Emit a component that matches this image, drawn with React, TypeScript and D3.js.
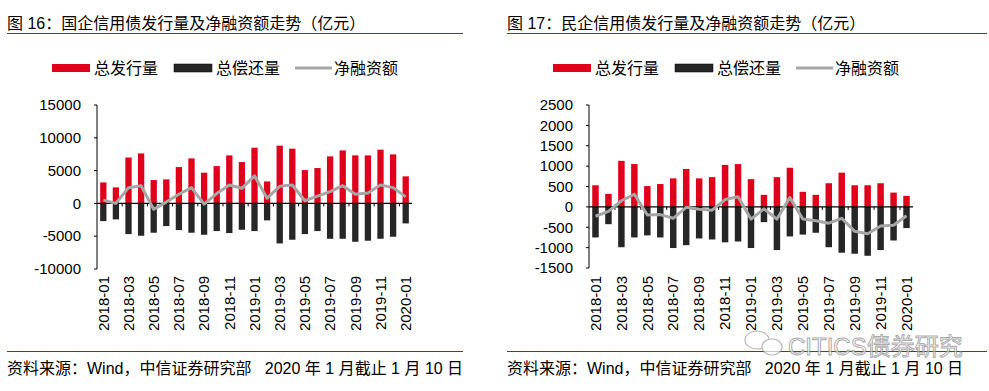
import * as d3 from 'd3'

const months = [
  '2018-01', '2018-02', '2018-03', '2018-04', '2018-05', '2018-06', '2018-07', '2018-08', '2018-09',
  '2018-10', '2018-11', '2018-12', '2019-01', '2019-02', '2019-03', '2019-04', '2019-05', '2019-06',
  '2019-07', '2019-08', '2019-09', '2019-10', '2019-11', '2019-12', '2020-01',
]

// 国企 (state-owned)
const soeIssue = [3200, 2440, 7000, 7620, 3560, 3660, 5540, 6860, 4680, 5690, 7320, 6300, 8490, 3350, 8800, 8340, 5080, 5390, 7170, 8080, 7320, 7320, 8190, 7470, 4120]
const soeRepay = [-2700, -2440, -4680, -4930, -4470, -3460, -4070, -4470, -4780, -4220, -4520, -4020, -4220, -2590, -6100, -5540, -4680, -4220, -5390, -5390, -5850, -5690, -5390, -5080, -3050]
const soeNet = [500, 0, 2400, 2700, -900, 200, 1400, 2400, -100, 1500, 2800, 2300, 4200, 800, 2600, 2800, 400, 1100, 1800, 2700, 1400, 1600, 2800, 2400, 1000]
const soeTicks = [15000, 10000, 5000, 0, -5000, -10000]

// 民企 (private)
const privIssue = [530, 320, 1130, 1050, 510, 560, 700, 930, 700, 730, 1030, 1050, 680, 295, 730, 960, 370, 295, 580, 840, 530, 530, 580, 350, 270]
const privRepay = [-750, -425, -990, -750, -700, -750, -1010, -940, -775, -800, -870, -850, -1010, -375, -1060, -725, -680, -635, -990, -1125, -1150, -1200, -1060, -825, -520]
const privNet = [-230, -110, 150, 310, -200, -190, -280, -10, -60, -80, 180, 250, -300, -50, -300, 230, -300, -340, -400, -280, -600, -660, -470, -450, -220]
const privTicks = [2500, 2000, 1500, 1000, 500, 0, -500, -1000, -1500]

const RED = '#E0001B'
const BLACK = '#262626'
const GRAY = '#A6A6A6'
const LINE_RED = '#9E1F24'
const FONT = '"Liberation Sans", Arial, "Noto Sans CJK SC", sans-serif'

interface PanelProps {
  ox: number
  width: number
  title: string
  issue: number[]
  repay: number[]
  net: number[]
  ticks: number[]
  plotX: [number, number]
  yTop: number
  yBottom: number
  legendX: number
}

function Panel({ ox, width, title, issue, repay, net, ticks, plotX, yTop, yBottom, legendX }: PanelProps) {
  const x = d3.scaleBand<string>().domain(months).range(plotX).paddingInner(0.5).paddingOuter(0.25)
  const band = d3.scaleBand<string>().domain(months).range(plotX)
  const y = d3.scaleLinear().domain([ticks[ticks.length - 1], ticks[0]]).range([yBottom, yTop])
  const y0 = y(0)
  const line = d3.line<number>()
    .x((_, i) => (band(months[i]) ?? 0) + band.bandwidth() / 2)
    .y((d) => y(d))

  return (
    <g>
      <text x={ox} y={29} fontSize={16} fill="#000">{title}</text>
      <line x1={ox} x2={ox + width} y1={33.5} y2={33.5} stroke={LINE_RED} strokeWidth={1} />

      {/* legend */}
      <g transform={`translate(${legendX},68)`} fontSize={16}>
        <rect x={0} y={-4} width={38} height={8} fill={RED} />
        <text x={42} y={6}>总发行量</text>
        <rect x={122} y={-4} width={38} height={8} fill={BLACK} stroke="#000" strokeWidth={0.5} />
        <text x={164} y={6}>总偿还量</text>
        <line x1={243} x2={280} y1={0} y2={0} stroke={GRAY} strokeWidth={3} />
        <text x={282} y={6}>净融资额</text>
      </g>

      {/* bars */}
      {months.map((m, i) => (
        <g key={m}>
          <rect x={x(m)} width={x.bandwidth()} y={y(issue[i])} height={y0 - y(issue[i])} fill={RED} />
          <rect x={x(m)} width={x.bandwidth()} y={y0} height={y(repay[i]) - y0} fill={BLACK} />
        </g>
      ))}

      {/* y axis */}
      <line x1={plotX[0]} x2={plotX[0]} y1={yTop} y2={yBottom} stroke="#000" strokeWidth={1} />
      {ticks.map((t) => (
        <g key={t}>
          <line x1={plotX[0] - 3} x2={plotX[0]} y1={y(t)} y2={y(t)} stroke="#000" />
          <text x={plotX[0] - 16} y={y(t)} dy="0.35em" textAnchor="end" fontSize={15}>{t}</text>
        </g>
      ))}

      {/* x axis at zero */}
      <line x1={plotX[0]} x2={plotX[1]} y1={y0} y2={y0} stroke="#000" strokeWidth={1.2} />
      {months.map((m, i) => i % 2 === 0 && i > 0 ? (
        <line key={m} x1={band(m)} x2={band(m)} y1={y0} y2={y0 + 3} stroke="#000" />
      ) : null)}

      <path d={line(net) ?? ''} fill="none" stroke={GRAY} strokeWidth={3} strokeLinejoin="round" />

      {months.map((m, i) => i % 2 === 0 ? (
        <text key={m} transform={`translate(${(band(m) ?? 0) + band.bandwidth() / 2},276) rotate(-90)`}
          textAnchor="end" dy="0.35em" fontSize={15}>{m}</text>
      ) : null)}

      <line x1={ox} x2={ox + width} y1={351.5} y2={351.5} stroke={LINE_RED} strokeWidth={1} />
      <text x={ox} y={374} fontSize={16}>资料来源：Wind，中信证券研究部{'\u00a0\u00a0\u00a0'}2020 年 1 月截止 1 月 10 日</text>
    </g>
  )
}

export default function App() {
  return (
    <svg width={989} height={391} style={{ position: 'absolute', left: 0, top: 0, background: '#fff' }}
      fontFamily={FONT}>
      <rect width={989} height={391} fill="#fff" />
      <Panel ox={7} width={456} title="图 16：国企信用债发行量及净融资额走势（亿元）" issue={soeIssue} repay={soeRepay}
        net={soeNet} ticks={soeTicks} plotX={[97, 412]} yTop={105} yBottom={269} legendX={52} />
      <Panel ox={507} width={480} title="图 17：民企信用债发行量及净融资额走势（亿元）" issue={privIssue} repay={privRepay}
        net={privNet} ticks={privTicks} plotX={[589, 913]} yTop={105} yBottom={268} legendX={553} />

      {/* watermark */}
      <g opacity={0.7}>
        <ellipse cx={757} cy={340} rx={12} ry={9} fill="none" stroke="#9a9a9a" strokeWidth={1.2} />
        <ellipse cx={772} cy={347} rx={10} ry={8} fill="#fff" stroke="#9a9a9a" strokeWidth={1.2} />
        <text x={788} y={355} fontSize={24} fill="#fff" stroke="#8a8a8a" strokeWidth={1}
          fontFamily='"Liberation Sans", "Noto Sans CJK SC", sans-serif'>CITICS债券研究</text>
      </g>
    </svg>
  )
}
